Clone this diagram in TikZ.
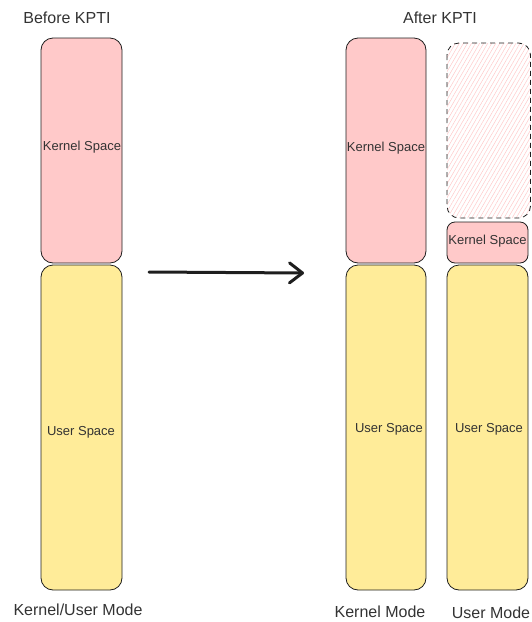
\documentclass[tikz,border=0pt]{standalone}
\usepackage{fontspec}
\setmainfont{Liberation Sans}
\usetikzlibrary{patterns.meta,arrows.meta}
\definecolor{kpink}{HTML}{FFC9C9}
\definecolor{kyellow}{HTML}{FFEC99}
\definecolor{kstroke}{HTML}{1E1E1E}
\definecolor{ktext}{HTML}{333333}
\definecolor{khatch}{HTML}{FFC9C9}
\begin{document}
\begin{tikzpicture}[x=1pt,y=-1pt,
  blk/.style={draw=kstroke,line width=0.8pt,rounded corners=12pt},
  kern/.style={blk,fill=kpink},
  usr/.style={blk,fill=kyellow},
  lbl/.style={text=ktext,font=\fontsize{13}{14}\selectfont,inner sep=0pt},
  title/.style={text=ktext,font=\fontsize{16}{18}\selectfont,inner sep=0pt}]
\useasboundingbox (0,0) rectangle (531,622);
% left column
\draw[kern] (41,38) rectangle (122,263);
\draw[usr] (41,265) rectangle (122,590);
\node[lbl] (lk) at (82,147) {Kernel Space};
\node[lbl] (lu) at (81,432) {User Space};
\node[title] (bt) at (67,18) {Before KPTI};
\node[title] (bm) at (78,610) {Kernel/User Mode};
% right column A
\draw[kern] (346,38) rectangle (426,263);
\draw[usr] (346,265) rectangle (426,590);
\node[lbl] (rk) at (386,148) {Kernel Space};
\node[lbl] (ru) at (389,429) {User Space};
% right column B
\draw[draw=kstroke,line width=0.8pt,dashed,dash pattern=on 5pt off 4pt,rounded corners=12pt,
  pattern={Lines[angle=60,distance=3.5pt,line width=0.5pt]},pattern color=khatch] (447,43) rectangle (530.5,218);
\draw[kern,rounded corners=8pt] (447,222) rectangle (528,263);
\draw[usr] (447,265) rectangle (528,590);
\node[lbl] (sk) at (487.5,241) {Kernel Space};
\node[lbl] (su) at (489,429) {User Space};
\node[title] (at) at (440,18) {After KPTI};
\node[title] (km) at (380,612) {Kernel Mode};
\node[title] (um) at (491,613) {User Mode};
% arrow
\coordinate (a0) at (149,272);
\coordinate (a1) at (304,273);
\draw[kstroke,line width=3pt,line cap=round,-{Straight Barb[length=13pt,width=20pt,line width=3pt,round]}] (a0) -- (a1);
\end{tikzpicture}
\end{document}
